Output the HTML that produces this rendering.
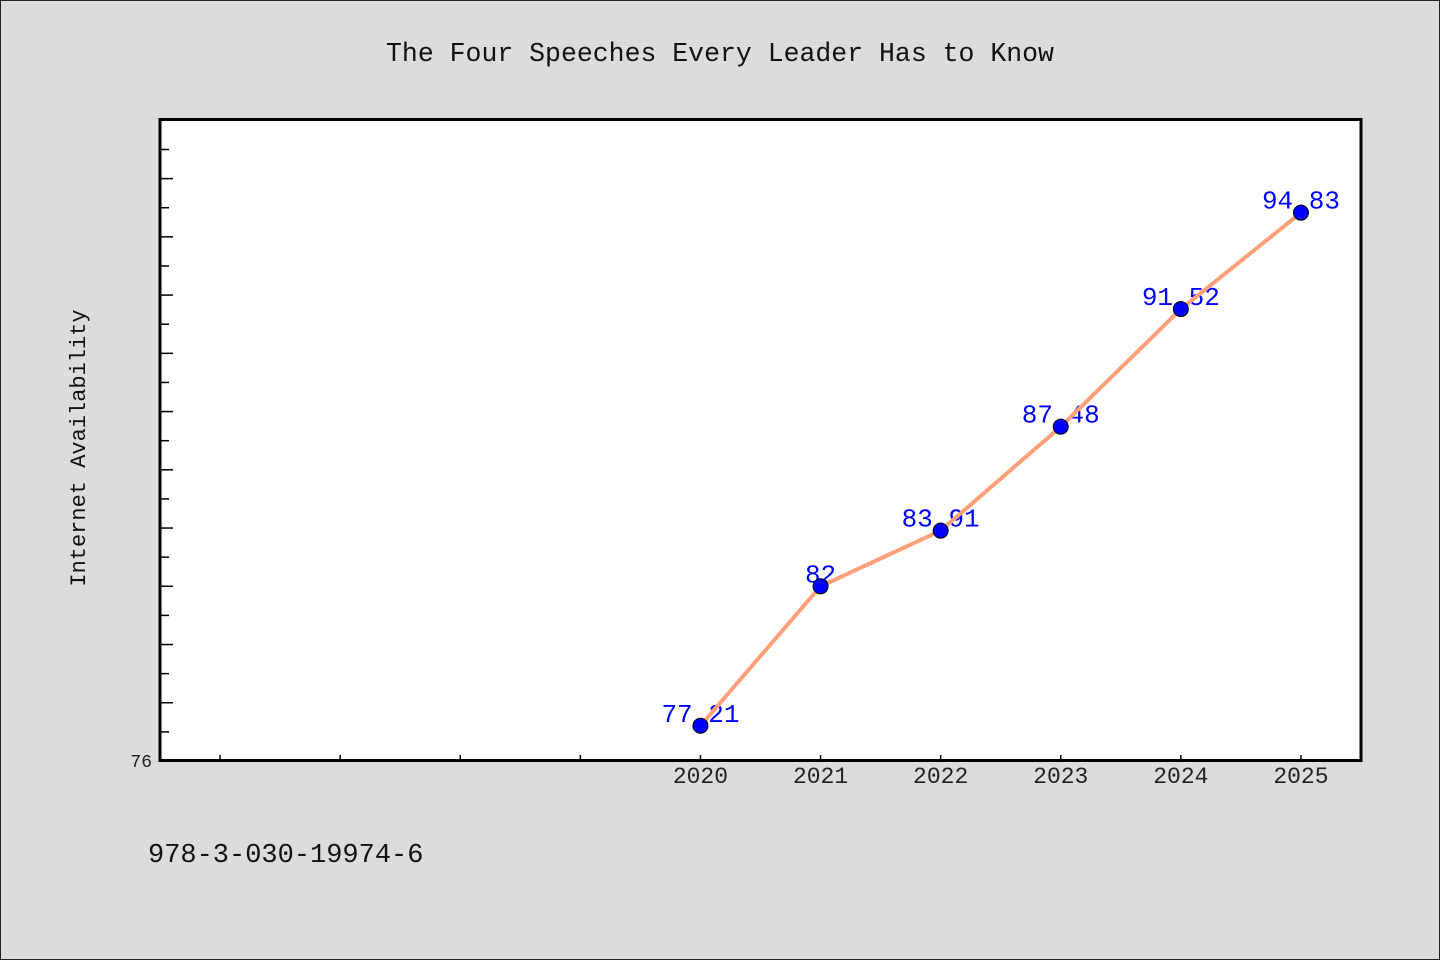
<!DOCTYPE html>
<html><head><meta charset="utf-8"><style>
html,body{margin:0;padding:0;background:#dcdcdc;}
svg{display:block;font-family:"WenQuanYi Zen Hei Mono","WenQuanYi Zen Hei","Liberation Mono",monospace;}
</style></head><body>
<svg id="chart" width="1440" height="960" xmlns="http://www.w3.org/2000/svg">
<rect x="0.5" y="0.5" width="1439" height="959" fill="#dcdcdc" stroke="#222" stroke-width="1"/>
<text x="720" y="61" font-size="26.5" text-anchor="middle" fill="#111">The Four Speeches Every Leader Has to Know</text>
<rect x="160" y="119.5" width="1201" height="641" fill="#fff"/>
<g id="ticks"></g>
<g id="labels"></g>
<g id="series"></g>
<rect x="160" y="119.5" width="1201" height="641" fill="none" stroke="#000" stroke-width="3"/>
<text transform="translate(85,448) rotate(-90)" font-size="22" text-anchor="middle" fill="#111">Internet Availability</text>
<text x="148" y="862" font-size="27" fill="#111">978-3-030-19974-6</text>
</svg>
<script>
const years = [2020, 2021, 2022, 2023, 2024, 2025];
const values = [77.21, 82, 83.91, 87.48, 91.52, 94.83];
const valueLabels = ["77.21", "82", "83.91", "87.48", "91.52", "94.83"];
const yTickLabels = ["76"];
const X0 = 160, X1 = 1361, Y0 = 761, Y1 = 119.5;
const xMin = 2015.5, xMax = 2025.5, yMin = 76, yMax = 98.03;
const sx = v => X0 + (v - xMin) / (xMax - xMin) * (X1 - X0);
const sy = v => Y0 - (v - yMin) / (yMax - yMin) * (Y0 - Y1);
const NS = "http://www.w3.org/2000/svg";
function mk(tag, attrs, parent, txt) {
  const e = document.createElementNS(NS, tag);
  for (const k in attrs) e.setAttribute(k, attrs[k]);
  if (txt !== undefined) e.textContent = txt;
  parent.appendChild(e); return e;
}
const ticks = document.getElementById('ticks');
for (let v = 77; v <= 97; v++) {
  const len = v % 2 === 0 ? 13 : 9;
  const t = mk('line', {x1: X0, x2: X0 + len, y1: sy(v), y2: sy(v), stroke: '#000', 'stroke-width': 1.5}, ticks);
  
  
}
yTickLabels.forEach(l => {
  const t = mk('text', {x: 152, y: sy(+l) + 6, 'font-size': 18, 'text-anchor': 'end', fill: '#222'}, ticks, l);
  
  
});
for (let yr = 2016; yr <= 2025; yr++) {
  const t = mk('line', {x1: sx(yr), x2: sx(yr), y1: Y0, y2: Y0 - 6, stroke: '#000', 'stroke-width': 1.5}, ticks);
  
  
}
years.forEach(yr => {
  const t = mk('text', {x: sx(yr), y: 783, 'font-size': 23, 'text-anchor': 'middle', fill: '#222'}, ticks, String(yr));
  
  
});
const labels = document.getElementById('labels');
values.forEach((v, i) => {
  const t = mk('text', {x: sx(years[i]), y: sy(v) - 4, 'font-size': 26, 'text-anchor': 'middle', fill: '#0000ff'}, labels, valueLabels[i]);
  
  
});
const series = document.getElementById('series');
const pts = values.map((v, i) => sx(years[i]) + ',' + sy(v)).join(' ');
const pl = mk('polyline', {points: pts, fill: 'none', stroke: '#ffa07a', 'stroke-width': 4, 'stroke-linejoin': 'round'}, series);


values.forEach((v, i) => {
  const c = mk('circle', {cx: sx(years[i]), cy: sy(v), r: 7.5, fill: '#0000ff', stroke: '#000', 'stroke-width': 1}, series);
  
  
});
</script>
</body></html>
